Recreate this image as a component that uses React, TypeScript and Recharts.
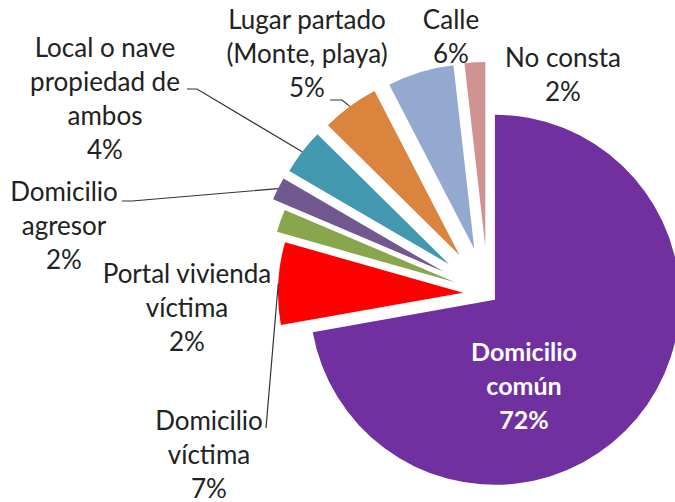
import React from 'react';
import { PieChart, Pie, Cell } from 'recharts';

// place categories (line breaks as in the original labels)
const categories = [
  'Domicilio\ncomún',
  'Domicilio\nvíctima',
  'Portal vivienda\nvíctima',
  'Domicilio\nagresor',
  'Local o nave\npropiedad de\nambos',
  'Lugar partado\n(Monte, playa)',
  'Calle',
  'No consta',
];
const shares = [72.2, 7.2, 2.0, 2.0, 4.0, 5.0, 5.8, 1.8];

const COLORS = ['#7030A0', '#FF0000', '#8AA64C', '#71588F', '#4198AF', '#DB843D', '#93A9CF', '#D19392'];
// how far each slice is pulled out of the pie, px
const EXPLODE = [9, 25, 35, 50, 49, 48, 47, 47];

const CX = 488;
const CY = 294;
const RADIUS = 185;
const FONT = 'Lato, "Open Sans", sans-serif';

// label placement: centre x, first baseline, leader line start points
const LABELS: { x: number; y: number; inside?: boolean; lead?: number[][] }[] = [
  { x: 524, y: 361, inside: true },
  { x: 209, y: 430, lead: [[266, 428]] },
  { x: 187, y: 283 },
  { x: 64, y: 201, lead: [[122, 201], [132, 201]] },
  { x: 105, y: 57, lead: [[187, 89], [197, 89]] },
  { x: 307, y: 29, lead: [[330, 100], [342, 100]] },
  { x: 451, y: 29 },
  { x: 563, y: 67 },
];

const RAD = Math.PI / 180;
const total = shares.reduce((a, b) => a + b, 0);
let acc = 0;
// mid angle of each slice, clockwise from 12 o'clock
const midAngles = shares.map((v) => {
  const m = ((acc + v / 2) / total) * 360;
  acc += v;
  return m;
});

const data = categories.map((name, i) => ({ name, value: shares[i] }));

const renderLabel = (p: any, i: number) => {
  const cfg = LABELS[i];
  const lines = [...categories[i].split('\n'), `${Math.round(shares[i])}%`];
  const ex = p.cx + p.outerRadius * Math.cos(-p.midAngle * RAD);
  const ey = p.cy + p.outerRadius * Math.sin(-p.midAngle * RAD);
  return (
    <g>
      {cfg.lead && (
        <polyline
          points={[...cfg.lead, [ex, ey]].map((pt) => pt.join(',')).join(' ')}
          fill="none"
          stroke="#333"
          strokeWidth={1.2}
        />
      )}
      <text
        x={cfg.x}
        y={cfg.y}
        textAnchor="middle"
        fontFamily={FONT}
        fontSize={cfg.inside ? 25 : 26}
        fontWeight={cfg.inside ? 700 : 400}
        fill={cfg.inside ? '#ffffff' : '#222222'}
      >
        {lines.map((l, k) => (
          <tspan key={k} x={cfg.x} y={cfg.y + k * 34}>
            {l}
          </tspan>
        ))}
      </text>
    </g>
  );
};

const App: React.FC = () => {
  return (
    <div style={{ position: 'absolute', left: 0, top: 0, width: 675, height: 502, background: '#fff', overflow: 'hidden' }}>
      <PieChart width={675} height={502} margin={{ top: 0, right: 0, bottom: 0, left: 0 }}>
        {data.map((_, i) => (
          <Pie
            key={`pie-${i}`}
            data={data}
            dataKey="value"
            cx={CX + EXPLODE[i] * Math.sin(midAngles[i] * RAD)}
            cy={CY - EXPLODE[i] * Math.cos(midAngles[i] * RAD)}
            outerRadius={RADIUS}
            startAngle={90}
            endAngle={-270}
            stroke="none"
            labelLine={false}
            label={(p: any) => (p.index === i ? renderLabel(p, i) : null)}
            isAnimationActive={false}
          >
            {data.map((entry, j) => (
              <Cell key={`cell-${j}`} fill={j === i ? COLORS[j] : 'none'} stroke="none" />
            ))}
          </Pie>
        ))}
      </PieChart>
    </div>
  );
};

export default App;
